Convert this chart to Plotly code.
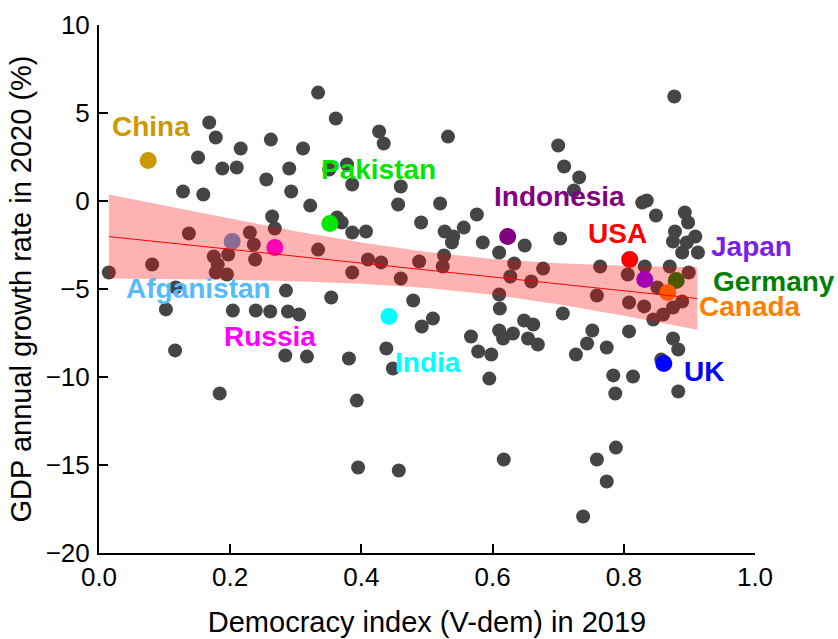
import plotly.graph_objects as go

# Democracy index (V-dem, 2019) vs. GDP growth in 2020 for all other countries
demo_idx = [0.168, 0.178, 0.151, 0.188, 0.210, 0.216, 0.262, 0.311, 0.290, 0.255,
            0.293, 0.322, 0.334, 0.128, 0.159, 0.264, 0.268, 0.137, 0.230, 0.236,
            0.238, 0.197, 0.175, 0.181, 0.178, 0.195, 0.081, 0.015, 0.334, 0.117,
            0.102, 0.204, 0.239, 0.261, 0.288, 0.305, 0.285, 0.116, 0.284, 0.317,
            0.184, 0.361, 0.427, 0.434, 0.532, 0.378, 0.351, 0.386, 0.460, 0.456,
            0.520, 0.576, 0.363, 0.370, 0.386, 0.407, 0.491, 0.527, 0.540, 0.556,
            0.538, 0.585, 0.610, 0.649, 0.410, 0.430, 0.488, 0.526, 0.524, 0.633,
            0.386, 0.627, 0.460, 0.610, 0.611, 0.354, 0.479, 0.509, 0.492, 0.438,
            0.381, 0.448, 0.567, 0.578, 0.598, 0.595, 0.610, 0.616, 0.631, 0.648,
            0.654, 0.393, 0.617, 0.677, 0.659, 0.764, 0.806, 0.759, 0.808, 0.831,
            0.870, 0.899, 0.851, 0.889, 0.875, 0.860, 0.845, 0.707, 0.662, 0.669,
            0.752, 0.808, 0.744, 0.774, 0.727, 0.875, 0.883, 0.857, 0.784, 0.814,
            0.787, 0.883, 0.788, 0.759, 0.395, 0.457, 0.774, 0.738, 0.877, 0.700,
            0.709, 0.732, 0.724, 0.828, 0.835, 0.849, 0.893, 0.898, 0.878, 0.875,
            0.909, 0.896, 0.889, 0.913, 0.703, 0.832]
gdp_growth = [4.46, 3.61, 2.47, 1.85, 1.90, 2.98, 3.49, 2.98, 1.85, 1.22,
              0.54, -0.26, 6.16, 0.54, 0.37, -0.88, -1.56, -1.85, -1.79, -2.47,
              -3.32, -3.04, -3.15, -3.61, -4.06, -4.18, -3.61, -4.06, -2.76, -4.91,
              -6.16, -6.22, -6.22, -6.28, -6.28, -6.45, -5.09, -8.49, -8.78, -8.84,
              -10.94, 4.69, 3.95, 3.27, 3.66, 2.07, 1.79, 0.94, 0.82, -0.20,
              -0.14, -0.77, -0.94, -1.22, -1.79, -1.73, -1.22, -1.73, -2.02, -1.51,
              -2.36, -2.36, -2.93, -2.53, -3.32, -3.49, -3.44, -3.10, -3.72, -3.55,
              -4.06, -4.29, -4.40, -5.31, -6.11, -5.48, -5.65, -6.68, -7.13, -8.38,
              -8.95, -9.52, -7.70, -8.55, -8.72, -10.09, -7.36, -7.81, -7.53, -6.79,
              -7.81, -11.34, -14.69, -3.84, -4.57, -3.72, -4.18, -5.37, -5.77, -5.99,
              -3.72, -4.06, -4.91, -5.71, -6.05, -6.45, -6.73, -6.39, -7.02, -8.15,
              -7.36, -7.41, -8.10, -8.32, -8.72, -7.81, -8.44, -9.01, -9.91, -9.97,
              -10.94, -10.82, -14.01, -14.69, -15.14, -15.31, -15.94, -17.93, 5.94, 3.15,
              1.96, 1.34, 0.60, -0.09, 0.03, -0.82, -0.65, -1.22, -1.73, -2.30,
              -2.02, -2.36, -2.93, -2.93, -2.13, -3.72]

# Highlighted countries
countries = ["China", "Pakistan", "Indonesia", "USA", "Japan", "Germany",
             "Canada", "UK", "India", "Russia", "Afganistan"]
country_idx = [0.075, 0.352, 0.623, 0.809, 0.832, 0.880, 0.867, 0.861, 0.442, 0.268, 0.203]
country_gdp = [2.30, -1.28, -2.02, -3.32, -4.46, -4.52, -5.20, -9.23, -6.56, -2.64, -2.30]

# Linear fit and its 95% confidence band
fit_x = [0.015, 0.1, 0.2, 0.3, 0.4, 0.5, 0.6, 0.7, 0.8, 0.912]
fit_y = [-2.02, -2.35, -2.74, -3.14, -3.53, -3.92, -4.31, -4.70, -5.10, -5.54]
ci_upper = [0.37, -0.27, -1.00, -1.72, -2.36, -2.90, -3.29, -3.53, -3.68, -3.76]
ci_lower = [-4.41, -4.43, -4.48, -4.56, -4.70, -4.94, -5.33, -5.87, -6.52, -7.32]

# Styling per highlighted country: marker colour, text colour, label offset (px)
marker_colors = ["#CC9900", "#00E600", "#800080", "#FF0000", "#8000FF", "#008000",
                 "#FF8000", "#0000FF", "#00FFFF", "#FF00FF", "#589DD6"]
text_colors = ["#CC9900", "#00E600", "#800080", "#FF0000", "#7B1FE6", "#008000",
               "#FF8000", "#0000FF", "#00FFFF", "#FF00FF", "#55BBFF"]
label_shift = [(3, 34), (49, 54), (52, 40), (-12, 26), (107, 33), (98, -1),
               (82, -14), (40, -8), (39, -46), (-5, -89), (-34, -47)]

FONT = "Liberation Sans, Arial, sans-serif"

fig = go.Figure()

fig.add_trace(go.Scatter(
    x=demo_idx, y=gdp_growth, mode="markers",
    marker=dict(color="#454545", size=14, line=dict(width=0)),
    showlegend=False, hoverinfo="skip"))

fig.add_trace(go.Scatter(
    x=country_idx, y=country_gdp, mode="markers",
    marker=dict(color=marker_colors, size=17, line=dict(width=0)),
    showlegend=False, hoverinfo="skip"))

# confidence band drawn over the points
fig.add_trace(go.Scatter(
    x=fit_x + fit_x[::-1], y=ci_upper + ci_lower[::-1],
    fill="toself", fillcolor="rgba(255,0,0,0.3)", mode="lines",
    line=dict(width=0), showlegend=False, hoverinfo="skip"))

fig.add_trace(go.Scatter(
    x=fit_x, y=fit_y, mode="lines", line=dict(color="#FF0000", width=1),
    showlegend=False, hoverinfo="skip"))

for name, cx, cy, col, (dx, dy) in zip(countries, country_idx, country_gdp,
                                        text_colors, label_shift):
    fig.add_annotation(x=cx, y=cy, text=name, showarrow=False,
                       xshift=dx, yshift=dy,
                       font=dict(family=FONT, size=28, color=col, weight="bold"))

axis_common = dict(
    showgrid=False, zeroline=False, showline=True, linecolor="black", linewidth=2,
    ticks="inside", ticklen=9, tickwidth=2, tickcolor="black", mirror=False,
    tickfont=dict(family=FONT, size=26, color="black"),
)

fig.update_xaxes(range=[0, 1], tickvals=[0, 0.2, 0.4, 0.6, 0.8, 1.0],
                 ticktext=["0.0", "0.2", "0.4", "0.6", "0.8", "1.0"],
                 title=dict(text="Democracy index (V-dem) in 2019",
                            font=dict(family=FONT, size=29, color="black"), standoff=20),
                 **axis_common)
fig.update_yaxes(range=[-20, 10], tickvals=[-20, -15, -10, -5, 0, 5, 10],
                 ticklabelstandoff=2,
                 title=dict(text="GDP annual growth rate in 2020 (%)",
                            font=dict(family=FONT, size=29, color="black"), standoff=6),
                 **axis_common)

fig.update_layout(
    width=838, height=639,
    margin=dict(l=99, r=83, t=25, b=86, autoexpand=False),
    plot_bgcolor="white", paper_bgcolor="white",
)

fig.write_html("out.html")
